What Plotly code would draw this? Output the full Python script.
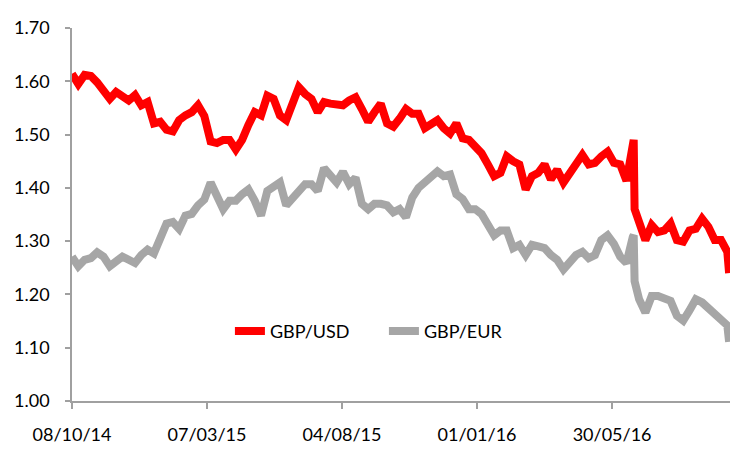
import pandas as pd
import plotly.graph_objs as go

# weekly closes (Wednesdays), plus a few extra days
weekly_dates = pd.date_range("2014-10-08", periods=105, freq="7D")
extra_dates = pd.to_datetime(["2016-06-23", "2016-06-24", "2016-10-07"])
dates = weekly_dates.append(extra_dates).sort_values()

gbp_usd = [
    1.614, 1.595, 1.612, 1.610, 1.598, 1.585, 1.567, 1.580, 1.571, 1.564,
    1.574, 1.555, 1.561, 1.521, 1.524, 1.509, 1.506, 1.527, 1.536, 1.542,
    1.555, 1.535, 1.487, 1.484, 1.490, 1.490, 1.472, 1.490, 1.518, 1.542,
    1.536, 1.573, 1.567, 1.536, 1.527, 1.555, 1.589, 1.576, 1.567, 1.542,
    1.561, 1.558, 1.558, 1.555, 1.564, 1.570, 1.548, 1.524, 1.542, 1.558,
    1.521, 1.515, 1.530, 1.548, 1.539, 1.539, 1.512, 1.518, 1.527, 1.512,
    1.502, 1.521, 1.493, 1.490, 1.478, 1.465, 1.444, 1.422, 1.428, 1.459,
    1.450, 1.444, 1.397, 1.422, 1.428, 1.444, 1.416, 1.434, 1.410, 1.428,
    1.444, 1.462, 1.444, 1.447, 1.459, 1.468, 1.447, 1.444, 1.413, 1.468,
    1.490, 1.360,
    1.333, 1.302, 1.330, 1.317, 1.320, 1.333, 1.302, 1.299, 1.320, 1.323,
    1.342, 1.327, 1.302, 1.302, 1.280,
    1.240,
]

gbp_eur = [
    1.271, 1.253, 1.265, 1.268, 1.279, 1.271, 1.253, 1.262, 1.271, 1.265,
    1.259, 1.274, 1.284, 1.277, 1.302, 1.333, 1.336, 1.323, 1.348, 1.351,
    1.367, 1.378, 1.410, 1.382, 1.360, 1.376, 1.376, 1.388, 1.397, 1.376,
    1.348, 1.394, 1.400, 1.410, 1.367, 1.382, 1.397, 1.407, 1.407, 1.394,
    1.437, 1.422, 1.410, 1.430, 1.407, 1.419, 1.370, 1.360, 1.370, 1.370,
    1.367, 1.354, 1.360, 1.345, 1.382, 1.400, 1.410, 1.419, 1.431, 1.422,
    1.425, 1.388, 1.379, 1.360, 1.360, 1.351, 1.327, 1.311, 1.320, 1.320,
    1.287, 1.293, 1.274, 1.293, 1.290, 1.287, 1.274, 1.265, 1.247, 1.259,
    1.274, 1.280, 1.268, 1.274, 1.302, 1.311, 1.295, 1.271, 1.259, 1.308,
    1.311, 1.225,
    1.191, 1.166, 1.197, 1.197, 1.191, 1.188, 1.160, 1.151, 1.170, 1.191,
    1.185, 1.173, 1.163, 1.154, 1.142,
    1.111,
]

tick_dates = ["2014-10-08", "2015-03-07", "2015-08-04", "2016-01-01", "2016-05-30"]
tick_labels = ["08/10/14", "07/03/15", "04/08/15", "01/01/16", "30/05/16"]

axis_grey = "#A0A0A0"
font_name = "Lato"

fig = go.Figure()
fig.add_trace(go.Scatter(x=dates, y=gbp_usd, mode="lines", name="GBP/USD",
                         line=dict(color="#FF0000", width=8)))
fig.add_trace(go.Scatter(x=dates, y=gbp_eur, mode="lines", name="GBP/EUR",
                         line=dict(color="#A6A6A6", width=8)))

fig.update_layout(
    width=749, height=457,
    margin=dict(l=72, r=19, t=28, b=50),
    paper_bgcolor="white", plot_bgcolor="white",
    font=dict(family=font_name, size=18, color="#000000"),
    showlegend=True,
    legend=dict(orientation="h", x=0.24, y=0.187, xanchor="left", yanchor="middle",
                entrywidth=109, entrywidthmode="pixels",
                font=dict(family=font_name, size=18), bgcolor="rgba(0,0,0,0)"),
)

fig.update_xaxes(
    range=["2014-10-08", "2016-10-08"],
    tickvals=tick_dates, ticktext=tick_labels,
    showgrid=False, zeroline=False,
    showline=True, linecolor=axis_grey, linewidth=1.5,
    ticks="outside", ticklen=6, tickcolor=axis_grey, tickwidth=1.5,
    ticklabelstandoff=11,
)
fig.update_yaxes(
    range=[1.0, 1.7], dtick=0.1, tick0=1.0, tickformat=".2f",
    showgrid=False, zeroline=False,
    showline=True, linecolor=axis_grey, linewidth=1.5,
    ticks="outside", ticklen=5, tickcolor=axis_grey, tickwidth=1.5,
    ticklabelstandoff=12,
)

# drop the default page margin so the chart sits at the window's top-left corner
fig.write_html("out.html", config={"displayModeBar": False},
               post_script="document.body.style.margin = '0';")
